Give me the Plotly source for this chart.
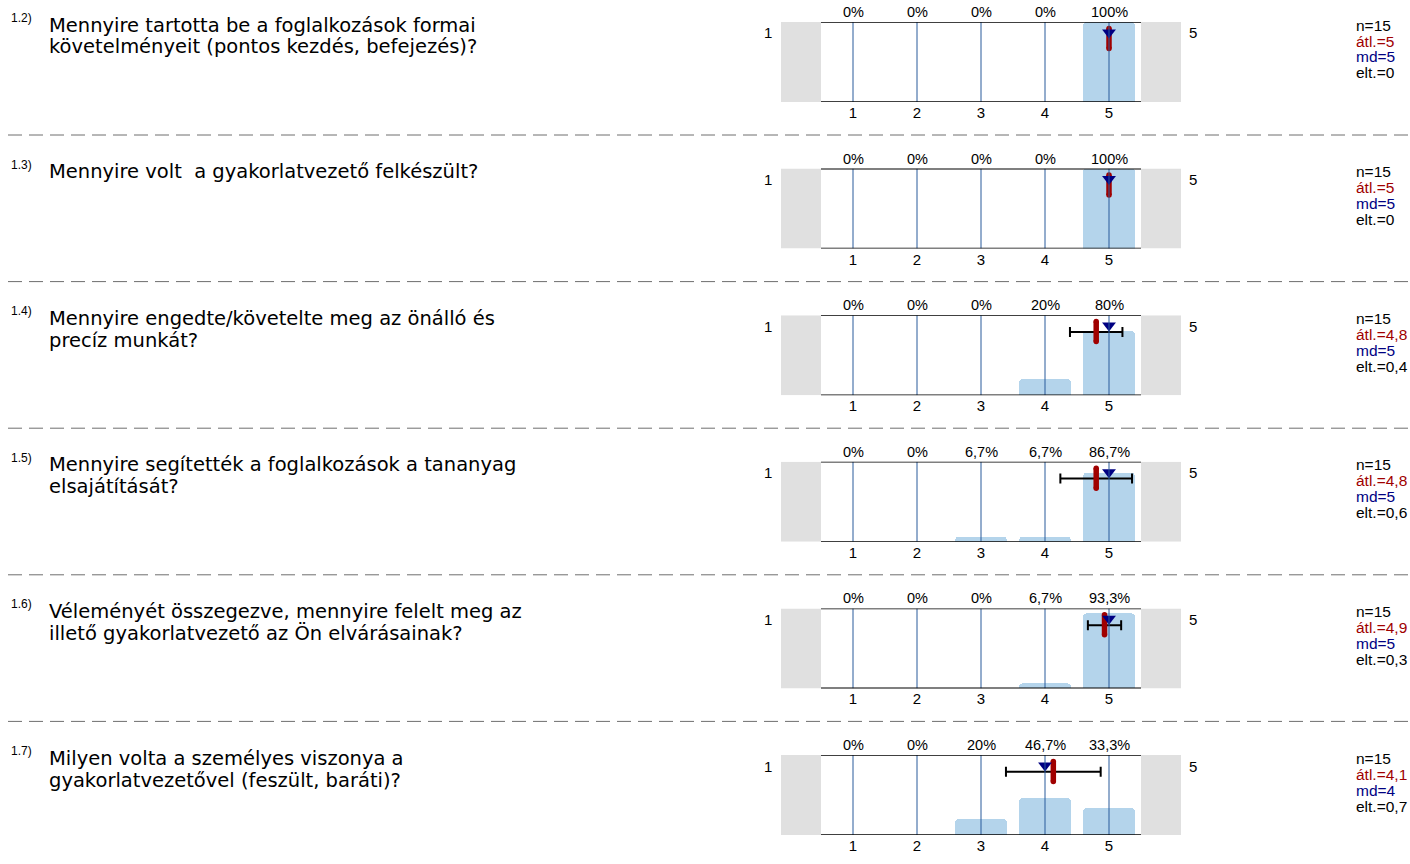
import plotly.graph_objects as go

# ---------------- data ----------------
q_numbers = ["1.2)", "1.3)", "1.4)", "1.5)", "1.6)", "1.7)"]
q_texts = [
    ["Mennyire tartotta be a foglalkozások formai", "követelményeit (pontos kezdés, befejezés)?"],
    ["Mennyire volt  a gyakorlatvezető felkészült?"],
    ["Mennyire engedte/követelte meg az önálló és", "precíz munkát?"],
    ["Mennyire segítették a foglalkozások a tananyag", "elsajátítását?"],
    ["Véleményét összegezve, mennyire felelt meg az", "illető gyakorlatvezető az Ön elvárásainak?"],
    ["Milyen volta a személyes viszonya a", "gyakorlatvezetővel (feszült, baráti)?"],
]
categories = [1, 2, 3, 4, 5]
pcts = [
    [0, 0, 0, 0, 100],
    [0, 0, 0, 0, 100],
    [0, 0, 0, 20, 80],
    [0, 0, 6.7, 6.7, 86.7],
    [0, 0, 0, 6.7, 93.3],
    [0, 0, 20, 46.7, 33.3],
]
n_vals = [15, 15, 15, 15, 15, 15]
means = [5, 5, 4.8, 4.8, 4.93, 4.13]
mean_labels = ["5", "5", "4,8", "4,8", "4,9", "4,1"]
medians = [5, 5, 5, 5, 5, 4]
sds = [0, 0, 0.41, 0.56, 0.26, 0.74]
sd_labels = ["0", "0", "0,4", "0,6", "0,3", "0,7"]
scale_left = "1"
scale_right = "5"

# ---------------- styling / layout ----------------
W, H = 1410, 864
FONT = "Liberation Sans, Arial, sans-serif"
Q_FONT = "DejaVu Sans, Liberation Sans, sans-serif"
BAR_C = "rgb(180,212,235)"
VLINE_C = "rgb(40,90,155)"
RED = "rgb(160,0,0)"
NAVY = "rgb(0,0,130)"
GREY_BOX = "rgb(224,224,224)"

PANEL_TOP0 = 22
PITCH = 146.6
PANEL_H = 80
X_LEFT, X_RIGHT = 781, 1181


def px(x):
    return x / W


def py(y):
    return 1 - y / H


def fmt_pct(v):
    if float(v).is_integer():
        return f"{int(v)}%"
    return f"{v:.1f}".replace(".", ",") + "%"


fig = go.Figure()
annotations = []
shapes = []
layout_axes = {}

for i in range(len(pcts)):
    k = i + 1
    xa = f"x{k}" if k > 1 else "x"
    ya = f"y{k}" if k > 1 else "y"
    top = PANEL_TOP0 + i * PITCH
    bot = top + PANEL_H

    layout_axes[f"xaxis{k}"] = dict(
        domain=[px(X_LEFT), px(X_RIGHT)], range=[-0.125, 6.125],
        tickvals=categories, ticktext=[str(c) for c in categories],
        showgrid=False, zeroline=False, showline=False, ticks="",
        tickfont=dict(size=15, color="black", family=FONT),
        anchor=ya, fixedrange=True,
    )
    layout_axes[f"yaxis{k}"] = dict(
        domain=[py(bot), py(top)], range=[0, 100], visible=False,
        anchor=xa, fixedrange=True,
    )

    # grey end boxes
    for x0, x1 in [(-0.125, 0.5), (5.5, 6.125)]:
        shapes.append(dict(type="rect", xref=xa, yref=ya, x0=x0, x1=x1, y0=0, y1=100,
                           fillcolor=GREY_BOX, line=dict(width=0), layer="below"))

    # bars
    fig.add_trace(go.Bar(
        x=categories, y=pcts[i], width=0.8, xaxis=xa, yaxis=ya,
        marker=dict(color=BAR_C, line=dict(width=0), cornerradius=4),
        hoverinfo="skip", showlegend=False,
    ))

    # vertical category lines
    for c in categories:
        shapes.append(dict(type="line", xref=xa, yref=ya, x0=c, x1=c, y0=0, y1=100,
                           line=dict(color=VLINE_C, width=1)))
    # top and bottom frame lines
    for yv in (0, 100):
        shapes.append(dict(type="line", xref=xa, yref=ya, x0=0.5, x1=5.5, y0=yv, y1=yv,
                           line=dict(color="black", width=1.6)))

    # error bar (std dev)
    if sds[i] > 0:
        fig.add_trace(go.Scatter(
            x=[means[i]], y=[79], xaxis=xa, yaxis=ya, mode="markers",
            marker=dict(size=1, color="rgba(0,0,0,0)"),
            error_x=dict(type="data", array=[sds[i]], width=5, thickness=2, color="black"),
            hoverinfo="skip", showlegend=False,
        ))
    # mean marker (rounded red bar)
    fig.add_trace(go.Scatter(
        x=[means[i], means[i]], y=[92, 67], xaxis=xa, yaxis=ya, mode="lines+markers",
        line=dict(color=RED, width=5.5), marker=dict(color=RED, size=5.5, symbol="circle"),
        hoverinfo="skip", showlegend=False,
    ))
    # median marker
    fig.add_trace(go.Scatter(
        x=[medians[i]], y=[87], xaxis=xa, yaxis=ya, mode="markers",
        marker=dict(symbol="triangle-down", size=12, color=NAVY, line=dict(width=0)),
        hoverinfo="skip", showlegend=False,
    ))

    # percent labels above
    for c, v in zip(categories, pcts[i]):
        annotations.append(dict(xref=xa, yref="paper", x=c, y=py(top - 10), text=fmt_pct(v),
                                showarrow=False, xanchor="center", yanchor="middle",
                                font=dict(size=14.5, color="black", family=FONT)))

    # scale end labels
    annotations.append(dict(xref="paper", yref="paper", x=px(768), y=py(top + 11), text=scale_left,
                            showarrow=False, xanchor="center", yanchor="middle",
                            font=dict(size=15, color="black", family=FONT)))
    annotations.append(dict(xref="paper", yref="paper", x=px(1193), y=py(top + 11), text=scale_right,
                            showarrow=False, xanchor="center", yanchor="middle",
                            font=dict(size=15, color="black", family=FONT)))

    # question number and text
    annotations.append(dict(xref="paper", yref="paper", x=px(9), y=py(top - 4), text=q_numbers[i],
                            showarrow=False, xanchor="left", yanchor="middle",
                            font=dict(size=12, color="black", family=FONT)))
    for j, line in enumerate(q_texts[i]):
        annotations.append(dict(xref="paper", yref="paper", x=px(47), y=py(top + 3 + j * 22),
                                text=line, showarrow=False, xanchor="left", yanchor="middle",
                                font=dict(size=19.5, color="black", family=Q_FONT)))

    # statistics
    stats = [
        (f"n={n_vals[i]}", "black"),
        (f"átl.={mean_labels[i]}", RED),
        (f"md={medians[i]}", NAVY),
        (f"elt.={sd_labels[i]}", "black"),
    ]
    for j, (t, col) in enumerate(stats):
        annotations.append(dict(xref="paper", yref="paper", x=px(1354), y=py(top + 3 + j * 16),
                                text=t, showarrow=False, xanchor="left", yanchor="middle",
                                font=dict(size=15.5, color=col, family=FONT)))

    # dashed separator
    if i < len(pcts) - 1:
        ysep = top + 113
        shapes.append(dict(type="line", xref="paper", yref="paper", x0=px(8), x1=1,
                           y0=py(ysep), y1=py(ysep),
                           line=dict(color="rgb(110,110,110)", width=1, dash="14px,7px")))

fig.update_layout(
    width=W, height=H, margin=dict(l=0, r=0, t=0, b=0),
    paper_bgcolor="white", plot_bgcolor="rgba(0,0,0,0)",
    showlegend=False, bargap=0,
    font=dict(family=FONT, color="black"),
    annotations=annotations, shapes=shapes,
    **layout_axes,
)

fig.write_html("out.html", config={"displayModeBar": False},
               post_script="document.body.style.margin='0px';")
